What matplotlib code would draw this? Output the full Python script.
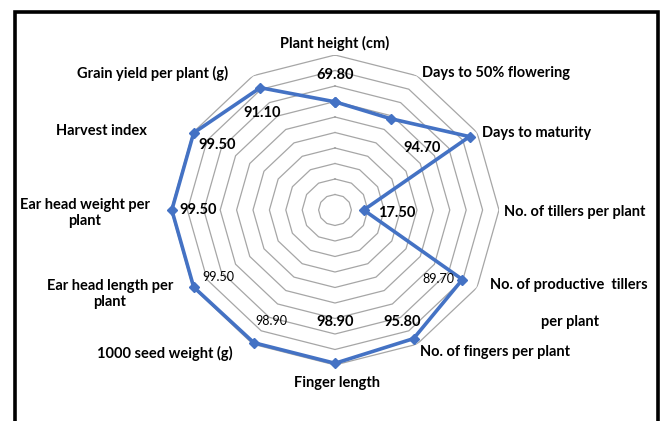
import numpy as np
import matplotlib
matplotlib.use("Agg")
import matplotlib.pyplot as plt
from matplotlib.patches import Rectangle

categories = ["Plant height (cm)", "Days to 50% flowering", "Days to maturity",
              "No. of tillers per plant", "No. of productive  tillers\n\nper plant",
              "No. of fingers per plant", "Finger length", "1000 seed weight (g)",
              "Ear head length per\nplant", "Ear head weight per\nplant",
              "Harvest index", "Grain yield per plant (g)"]
values = [69.80, 68.0, 94.70, 17.50, 89.70, 95.80, 98.90, 98.90, 99.50, 99.50, 99.50, 91.10]
value_labels = ["69.80", "", "94.70", "17.50", "89.70", "95.80", "98.90", "98.90",
                "99.50", "99.50", "99.50", "91.10"]
ring_levels = [10, 20, 30, 40, 50, 60, 70, 80, 90, 100]

W, H = 662, 421
fig = plt.figure(figsize=(W / 100, H / 100), dpi=100)
fig.patch.set_facecolor("white")

cx, cy, rx, ry = 335, 210, 164, 155
ax = fig.add_axes([(cx - rx) / W, (H - cy - ry) / H, 2 * rx / W, 2 * ry / H], projection="polar")
ax.set_aspect("auto")
ax.set_theta_offset(np.pi / 2)
ax.set_theta_direction(-1)
ax.set_ylim(0, 100)
ax.set_xticks([])
ax.set_yticks([])
ax.grid(False)
ax.spines["polar"].set_visible(False)
ax.patch.set_alpha(0)

n = len(categories)
ang = np.arange(n) * 2 * np.pi / n
ang_c = np.append(ang, ang[0])
for lv in ring_levels:
    ax.plot(ang_c, [lv] * (n + 1), color="#a6a6a6", lw=0.9, zorder=1)

vals_c = np.append(values, values[0])
ax.plot(ang_c, vals_c, color="#4472C4", lw=2.6, marker="D", ms=5.5,
        markerfacecolor="#4472C4", markeredgecolor="#4472C4", zorder=3, clip_on=False)

# category labels (pixel positions)
lab_pos = [(335, 43, "center"), (422, 73, "left"), (482, 133, "left"),
           (504, 212, "left"), (490, 285, "left"), (420, 352, "left"),
           (337, 383, "center"), (233, 353, "right"), (110, 294, "center"),
           (85, 213, "center"), (101, 131, "center"), (228, 73, "right")]
font = "Lato"
for txt, (x, y, ha) in zip(categories, lab_pos):
    if "\n\n" in txt:
        a, b = txt.split("\n\n")
        fig.text(x / W, 1 - y / H, a, ha="left", va="center", fontsize=10.5,
                 fontweight="bold", family=font)
        fig.text(570 / W, 1 - 322 / H, b, ha="center", va="center", fontsize=10.5,
                 fontweight="bold", family=font)
    else:
        fig.text(x / W, 1 - y / H, txt, ha=ha, va="center", fontsize=10.5,
                 fontweight="bold", family=font, multialignment="center",
                 linespacing=1.15)

# value labels (pixel positions)
val_pos = [(335, 75, 10.5, "bold"), None, (422, 148, 10.5, "bold"), (397, 213, 10.5, "bold"),
           (438, 279, 9, "normal"), (402, 322, 10.5, "bold"), (335, 322, 10.5, "bold"),
           (271, 321, 9, "normal"), (218, 277, 9, "normal"), (198, 210, 10.5, "bold"),
           (217, 145, 10.5, "bold"), (262, 113, 10.5, "bold")]
for txt, p in zip(value_labels, val_pos):
    if p is None or not txt:
        continue
    x, y, fs, fw = p
    fig.text(x / W, 1 - y / H, txt, ha="center", va="center", fontsize=fs,
             fontweight=fw, family=font, zorder=5)

# outer frame
fig.patches.append(Rectangle((15 / W, -0.05), (658 - 15) / W, (H - 12) / H + 0.05,
                             transform=fig.transFigure, fill=False, edgecolor="black",
                             lw=2.6, zorder=10))

fig.savefig("out.png", dpi=100, facecolor="white")
